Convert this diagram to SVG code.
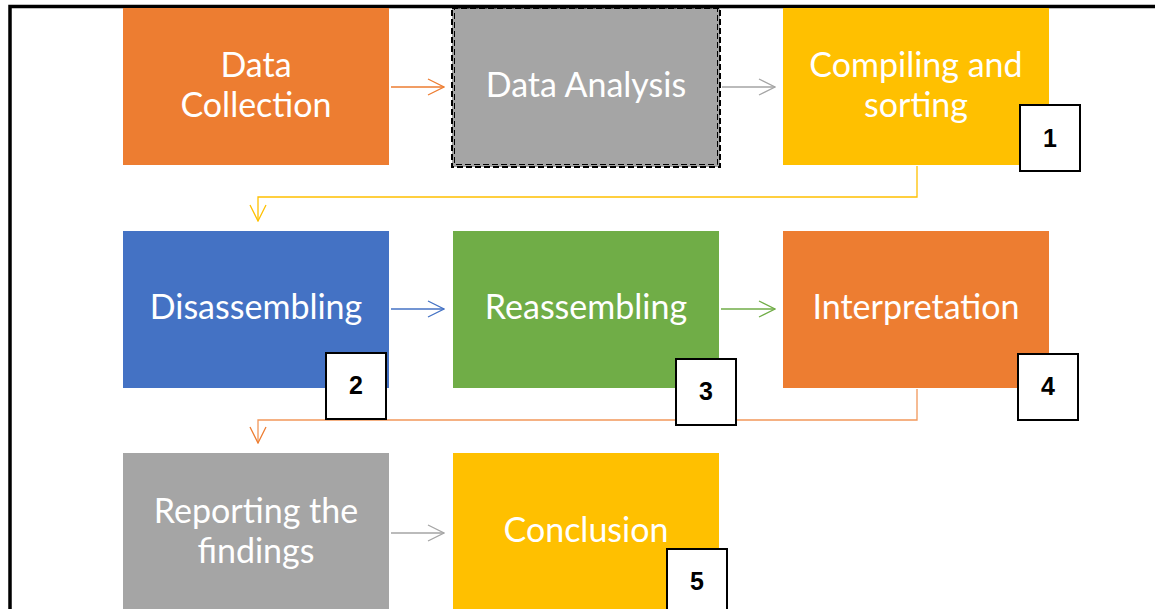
<svg xmlns="http://www.w3.org/2000/svg" width="1155" height="609" viewBox="0 0 1155 609">
  <style>
    .lbl { font-family: Lato, "Open Sans", "Liberation Sans", sans-serif; font-size: 34px; fill: #ffffff; text-anchor: middle; }
    .num { font-family: "Liberation Sans", Arial, sans-serif; font-size: 25px; font-weight: bold; fill: #000000; text-anchor: middle; }
    .tag { fill: #ffffff; stroke: #000000; stroke-width: 2; }
    .conn { fill: none; stroke-width: 1.3; }
  </style>
  <defs>
    <marker id="ahOrange" viewBox="0 0 18 18" refX="17" refY="9" markerWidth="18" markerHeight="18" markerUnits="userSpaceOnUse" orient="auto">
      <path d="M1,1 L17,9 L1,17" fill="none" stroke="#ED7D31" stroke-width="1.3"/>
    </marker>
    <marker id="ahGray" viewBox="0 0 18 18" refX="17" refY="9" markerWidth="18" markerHeight="18" markerUnits="userSpaceOnUse" orient="auto">
      <path d="M1,1 L17,9 L1,17" fill="none" stroke="#A5A5A5" stroke-width="1.3"/>
    </marker>
    <marker id="ahYellow" viewBox="0 0 18 18" refX="17" refY="9" markerWidth="18" markerHeight="18" markerUnits="userSpaceOnUse" orient="auto">
      <path d="M1,1 L17,9 L1,17" fill="none" stroke="#FFC000" stroke-width="1.3"/>
    </marker>
    <marker id="ahBlue" viewBox="0 0 18 18" refX="17" refY="9" markerWidth="18" markerHeight="18" markerUnits="userSpaceOnUse" orient="auto">
      <path d="M1,1 L17,9 L1,17" fill="none" stroke="#4472C4" stroke-width="1.3"/>
    </marker>
    <marker id="ahGreen" viewBox="0 0 18 18" refX="17" refY="9" markerWidth="18" markerHeight="18" markerUnits="userSpaceOnUse" orient="auto">
      <path d="M1,1 L17,9 L1,17" fill="none" stroke="#70AD47" stroke-width="1.3"/>
    </marker>
  </defs>

  <rect x="0" y="0" width="1155" height="609" fill="#ffffff"/>
  <!-- outer frame (top and left edges) -->
  <path d="M10,609 L10,6.5 L1155,6.5" fill="none" stroke="#000000" stroke-width="3.5"/>

  <!-- connectors -->
  <g id="connectors">
    <line class="conn" x1="391" y1="87" x2="444" y2="87" stroke="#ED7D31" marker-end="url(#ahOrange)"/>
    <line class="conn" x1="722" y1="87" x2="775" y2="87" stroke="#A5A5A5" marker-end="url(#ahGray)"/>
    <path class="conn" d="M917,166 L917,197 L258,197 L258,221" stroke="#FFC000" marker-end="url(#ahYellow)"/>
    <line class="conn" x1="391" y1="309" x2="444" y2="309" stroke="#4472C4" marker-end="url(#ahBlue)"/>
    <line class="conn" x1="721" y1="309" x2="775" y2="309" stroke="#70AD47" marker-end="url(#ahGreen)"/>
    <path class="conn" d="M917,389 L917,420 L258,420 L258,443" stroke="#ED7D31" stroke-opacity="0.8" marker-end="url(#ahOrange)"/>
    <line class="conn" x1="391" y1="533" x2="444" y2="533" stroke="#A5A5A5" marker-end="url(#ahGray)"/>
  </g>

  <g id="data-collection">
    <rect x="123" y="8" width="266" height="157" fill="#ED7D31"/>
    <text class="lbl" x="256" y="77">Data</text>
    <text class="lbl" x="256" y="117">Collection</text>
  </g>

  <g id="data-analysis">
    <rect x="452" y="8" width="268" height="159" fill="#A5A5A5"/>
    <rect x="452" y="8" width="268" height="159" fill="none" stroke="#000000" stroke-width="2" stroke-dasharray="6,3"/>
    <rect x="454.5" y="8" width="263" height="156.5" fill="none" stroke="#000000" stroke-width="1" stroke-dasharray="6,3"/>
    <text class="lbl" x="586" y="97">Data Analysis</text>
  </g>

  <g id="compiling">
    <rect x="783" y="8" width="266" height="157" fill="#FFC000"/>
    <text class="lbl" x="916" y="77">Compiling and</text>
    <text class="lbl" x="916" y="117">sorting</text>
  </g>

  <g id="disassembling">
    <rect x="123" y="231" width="266" height="157" fill="#4472C4"/>
    <text class="lbl" x="256" y="319">Disassembling</text>
  </g>

  <g id="reassembling">
    <rect x="453" y="231" width="266" height="157" fill="#70AD47"/>
    <text class="lbl" x="586" y="319">Reassembling</text>
  </g>

  <g id="interpretation">
    <rect x="783" y="231" width="266" height="157" fill="#ED7D31"/>
    <text class="lbl" x="916" y="319">Interpretation</text>
  </g>

  <g id="reporting">
    <rect x="123" y="453" width="266" height="160" fill="#A5A5A5"/>
    <text class="lbl" x="256" y="523">Reporting the</text>
    <text class="lbl" x="256" y="563">findings</text>
  </g>

  <g id="conclusion">
    <rect x="453" y="453" width="266" height="160" fill="#FFC000"/>
    <text class="lbl" x="586" y="542">Conclusion</text>
  </g>

  <!-- step numbers -->
  <g id="step-1">
    <rect class="tag" x="1020" y="105" width="60" height="66"/>
    <text class="num" x="1050" y="147">1</text>
  </g>
  <g id="step-2">
    <rect class="tag" x="326" y="353" width="60" height="66"/>
    <text class="num" x="356" y="394">2</text>
  </g>
  <g id="step-3">
    <rect class="tag" x="676" y="359" width="60" height="66"/>
    <text class="num" x="706" y="400">3</text>
  </g>
  <g id="step-4">
    <rect class="tag" x="1018" y="354" width="60" height="66"/>
    <text class="num" x="1048" y="395">4</text>
  </g>
  <g id="step-5">
    <rect class="tag" x="667" y="549" width="60" height="66"/>
    <text class="num" x="697" y="590">5</text>
  </g>
</svg>
